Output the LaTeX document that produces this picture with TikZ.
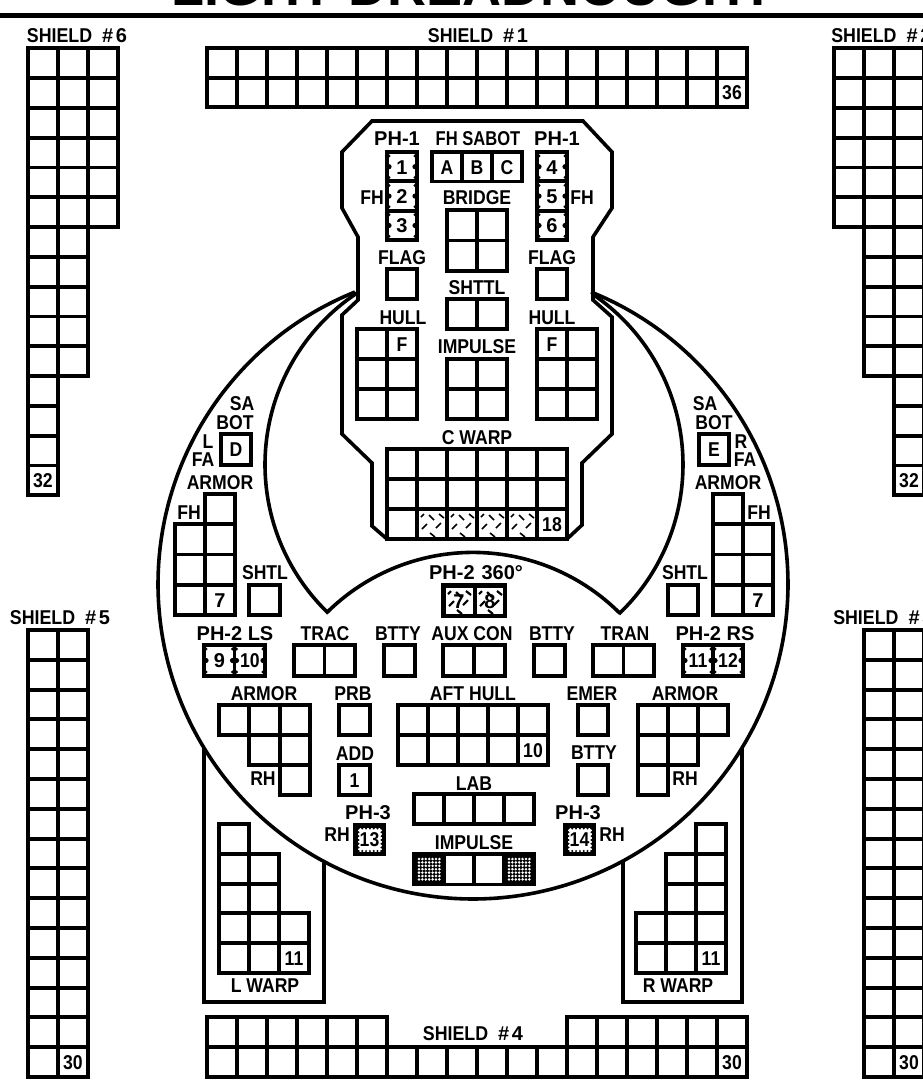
\documentclass[tikz,border=0pt]{standalone}
\usepackage{fontspec}
\usepackage{graphicx}
\setmainfont{Liberation Sans}
\newcounter{lbc}
\newcommand{\lblf}{\fontsize{15}{16}\selectfont\bfseries}
\tikzset{
  lbl/.style={font=\lblf,inner sep=0pt,anchor=center,text height=10.8pt,text depth=0pt},
  cellb/.style={draw=black,line width=2.9pt,fill=white},
  hull/.style={draw=black,line width=2.7pt,line join=miter},
  rule/.style={draw=black,line width=3.6pt}
}
% full grid of cells: x y w h nx ny
\newcommand{\gr}[6]{\foreach \ci in {1,...,#5}{\foreach \cj in {1,...,#6}{\draw[cellb] ({#1+(\ci-1)*#3},{#2+(\cj-1)*#4}) rectangle +(#3,#4);}}}
% text labels: x y text (narrow and plain widths)
\newcommand{\lab}[3]{\stepcounter{lbc}\node[lbl] (lb\thelbc) at (#1,#2) {\scalebox{0.88}[1]{#3}};}
\newcommand{\labw}[3]{\stepcounter{lbc}\node[lbl] (lb\thelbc) at (#1,#2) {#3};}
% shield title: SHIELD, wide gap, number sign, digit
\newcommand{\shld}[1]{\scalebox{0.89}[1]{SHIELD}\hspace{7.5pt}\#\hspace{2pt}#1}
% scalloped cell: x1 y1 x2 y2
\newcommand{\scal}[4]{\fill ({#1+2},{(#2+#4)/2}) circle[radius=2.6];\fill ({#3-2},{(#2+#4)/2}) circle[radius=2.6];
 \fill ({#1+2},{#2+4}) circle[radius=1.6];\fill ({#3-2},{#2+4}) circle[radius=1.6];\fill ({#1+2},{#4-4}) circle[radius=1.6];\fill ({#3-2},{#4-4}) circle[radius=1.6];}
% hatched cell: x y
\newcommand{\hatch}[3][1.2pt]{\begin{scope}[shift={(#2,#3)},line width=#1]
 \draw (5,20)--(10,15);\draw (12,6)--(17,11);\draw (19,19)--(24,14);\draw (13,24)--(18,28);\draw (22,5)--(27,9);\draw (4,8)--(7,5);
 \end{scope}}
% stippled dark cell: x y
\newcommand{\stip}[2]{\fill ({#1-1},{#2-1}) rectangle +(32,33);
 \foreach \u in {0,...,6}{\foreach \v in {0,...,6}{\fill[white] ({#1+5+\u*3.4},{#2+6+\v*3.4}) circle[radius=1.4];}}}
% phaser 3 box: x1 y1
\newcommand{\phthree}[2]{\fill (#1,#2) rectangle +(33,33);\fill[white] ({#1+5},{#2+5}) rectangle +(24,24);
 \foreach \u in {0,...,6}{\fill ({#1+5.5+\u*3.8},{#2+5.5}) circle[radius=1.1];\fill ({#1+5.5+\u*3.8},{#2+28}) circle[radius=1.1];\fill ({#1+5.5},{#2+5.5+\u*3.8}) circle[radius=1.1];\fill ({#1+28.5},{#2+5.5+\u*3.8}) circle[radius=1.1];}}
\begin{document}
\begin{tikzpicture}[x=0.75pt,y=-0.75pt]
\useasboundingbox (0,0) rectangle (923,1082);
\clip (0,0) rectangle (923,1082);
\fill[white] (0,0) rectangle (923,1082);
% title and rule
\node[font=\fontsize{40.5}{42}\selectfont\bfseries,inner sep=0pt,anchor=base] (title) at (473,5) {LIGHT DREADNOUGHT};
\draw[rule] (0,15.5) -- (923,15.5);
% hull outline
\draw[hull] (358,292) -- (358,237) -- (342,208) -- (342,152) -- (372,121) -- (583,121) -- (612,152) -- (612,208) -- (593,237) -- (593,292);
\draw[hull] (358,290) -- (358,300) -- (342,315) -- (342,434) -- (372,463) -- (372,526) -- (387,539) -- (567,539) -- (582,525) -- (582,463) -- (612,434) -- (612,317) -- (593,300) -- (593,290);
% saucer
\draw[hull] plot[smooth,domain=248:-68,samples=120] ({473+315*cos(\x)},{584+315*sin(\x)});
\draw[hull] plot[smooth,domain=236.4:133.9,samples=50] ({471+206*cos(\x)},{464.6+206*sin(\x)});
\draw[hull] plot[smooth,domain=-55.9:46.5,samples=50] ({477+206*cos(\x)},{464.6+206*sin(\x)});
\draw[hull] plot[smooth,domain=225:315,samples=50] ({473+207.6*cos(\x)},{760+207.6*sin(\x)});
% warp enclosures
\draw[hull] (204,748) -- (204,1002) -- (324,1002) -- (324,863);
\draw[hull] (623,862) -- (623,1002) -- (742,1002) -- (742,748);
% shields
\gr{28}{48.3}{30}{29.8}{3}{6}\gr{28}{227.1}{30}{29.8}{2}{5}\gr{28}{376.1}{30}{29.8}{1}{4}
\gr{834}{48.3}{30}{29.8}{3}{6}\gr{864}{227.1}{30}{29.8}{2}{5}\gr{894}{376.1}{30}{29.8}{1}{4}
\gr{28}{630}{30}{29.8}{2}{15}
\gr{864}{630}{30}{29.8}{2}{15}
\gr{207}{48}{30}{29.6}{18}{2}
\gr{207}{1017}{30}{30}{6}{1}\gr{567}{1017}{30}{30}{6}{1}\gr{207}{1047}{30}{30}{18}{1}
% forward section
\gr{387}{152}{30}{29.4}{1}{3}\gr{537}{152}{30}{29.4}{1}{3}
\gr{432}{152}{30}{29.5}{3}{1}
\gr{447}{210}{30}{30.5}{2}{2}
\gr{387}{269}{30}{30}{1}{1}\gr{537}{269}{30}{30}{1}{1}
\gr{447}{299}{30}{30}{2}{1}
\gr{357}{329}{30}{30}{2}{3}\gr{537}{329}{30}{30}{2}{3}
\gr{447}{359}{30}{30}{2}{2}
\gr{387}{449}{30}{30}{6}{3}
\foreach \k in {417,447,477,507}{\hatch{\k}{509}}
\scal{387}{152}{417}{181.4}\scal{387}{181.4}{417}{210.8}\scal{387}{210.8}{417}{240.2}
\scal{537}{152}{567}{181.4}\scal{537}{181.4}{567}{210.8}\scal{537}{210.8}{567}{240.2}
% sabots
\gr{221}{434}{30}{31}{1}{1}\gr{699}{434}{30}{31}{1}{1}
% FH armor
\gr{205}{494}{30}{30.25}{1}{4}\gr{175}{524.25}{30}{30.25}{1}{3}
\gr{713}{494}{30}{30.25}{1}{4}\gr{743}{524.25}{30}{30.25}{1}{3}
\gr{249}{585}{31}{30}{1}{1}\gr{668}{585}{30}{30}{1}{1}
% phaser 2 360
\fill (441,583) rectangle (507,618);
\fill[white] (446,588) rectangle (473,614);\fill[white] (477,588) rectangle (503,614);
\hatch[1.6pt]{444}{586}\hatch[1.6pt]{475}{586}
% mid row
\gr{204}{645}{30.5}{31}{2}{1}\scal{204}{645}{234.5}{676}\scal{234.5}{645}{265}{676}
\gr{294}{645}{30.5}{31}{2}{1}
\gr{384}{645}{31}{31}{1}{1}
\gr{443}{645}{31}{31}{2}{1}
\gr{534}{645}{31}{31}{1}{1}
\gr{593}{645}{30.5}{31}{2}{1}
\gr{683}{645}{30}{31}{2}{1}\scal{683}{645}{713}{676}\scal{713}{645}{743}{676}
% armor
\gr{219}{705}{30.3}{30}{3}{1}\gr{249.3}{735}{30.3}{30}{2}{1}\gr{279.6}{765}{30.3}{30}{1}{1}
\gr{638}{705}{30}{30}{3}{1}\gr{638}{735}{30}{30}{2}{1}\gr{638}{765}{30}{30}{1}{1}
\gr{339}{705}{31}{30}{1}{1}\gr{339}{765}{31}{30}{1}{1}
\gr{398}{705}{30}{30}{5}{2}
\gr{578}{705}{30}{30}{1}{1}\gr{578}{765}{30}{30}{1}{1}
\gr{414}{794}{30}{30}{4}{1}
\phthree{353}{823}\phthree{563}{823}
\gr{414}{854}{30}{30.5}{4}{1}
\stip{414}{853}\stip{504}{853}
% warp
\gr{219}{824}{30}{29.8}{1}{5}\gr{249}{853.8}{30}{29.8}{1}{4}\gr{279}{913.4}{30}{29.8}{1}{2}
\gr{696}{824}{30}{29.8}{1}{5}\gr{666}{853.8}{30}{29.8}{1}{4}\gr{636}{913.4}{30}{29.8}{1}{2}
% texts
\labw{77}{35}{\shld{6}}
\labw{478}{35}{\shld{1}}
\stepcounter{lbc}\node[lbl,anchor=west] (lbs2) at (831,35) {\shld{2}};
\labw{60}{617}{\shld{5}}
\stepcounter{lbc}\node[lbl,anchor=west] (lbs3) at (833,617) {\shld{3}};
\labw{473}{1033}{\shld{4}}
\lab{43}{480.5}{32}\lab{909}{480.5}{32}
\lab{73}{1062}{30}\lab{909}{1062}{30}
\lab{732}{92.5}{36}\lab{732}{1062}{30}
\labw{397}{138}{PH-1}\labw{557}{138}{PH-1}
\lab{478}{138}{\scalebox{0.94}[1]{FH SABOT}}
\lab{447}{167}{A}\lab{477}{167}{B}\lab{507}{167}{C}
\labw{402}{167}{1}\labw{402}{196}{2}\labw{402}{225.5}{3}
\labw{552}{167}{4}\labw{552}{196}{5}\labw{552}{225.5}{6}
\lab{372}{197}{FH}\lab{582}{197}{FH}
\lab{477}{197}{BRIDGE}
\lab{402}{257}{FLAG}\lab{552}{257}{FLAG}
\lab{477}{287}{SHTTL}
\lab{403}{317}{HULL}\lab{552}{317}{HULL}
\lab{402}{344}{F}\lab{552}{344}{F}
\lab{477}{346}{IMPULSE}
\lab{477}{437}{C WARP}
\lab{552}{524}{18}
\lab{242}{403}{SA}\lab{235}{422}{BOT}
\lab{208}{441}{L}\lab{203}{459}{FA}
\lab{236}{449.5}{D}\lab{714}{449.5}{E}
\lab{220}{482}{ARMOR}\lab{189}{512}{FH}
\lab{705}{403}{SA}\lab{714}{422}{BOT}
\lab{741}{441}{R}\lab{745}{459}{FA}
\lab{728}{482}{ARMOR}\lab{759}{512}{FH}
\labw{220}{600}{7}\labw{758}{600}{7}
\lab{265}{572}{SHTL}\lab{685}{572}{SHTL}
\labw{476}{572}{PH-2\hspace{1pt} 360°}
\labw{459}{601}{7}\labw{490}{601}{8}
\labw{235}{633}{PH-2 LS}\lab{325}{633}{TRAC}\lab{398}{633}{BTTY}
\lab{472}{633}{AUX CON}\lab{552}{633}{BTTY}\lab{625}{633}{TRAN}\labw{715}{633}{PH-2 RS}
\labw{219.5}{660.5}{9}\lab{250}{660.5}{10}\lab{698}{660.5}{11}\lab{728}{660.5}{12}
\lab{264}{693}{ARMOR}\lab{353}{693}{PRB}\lab{473}{693}{AFT HULL}\lab{592}{693}{EMER}\lab{685}{693}{ARMOR}
\lab{263}{778}{RH}\lab{685}{778}{RH}
\lab{355}{753}{ADD}\lab{594}{752}{BTTY}
\lab{354.5}{780}{1}\lab{533}{750}{10}
\lab{474}{783}{LAB}
\labw{368}{812}{PH-3}\labw{578}{812}{PH-3}
\lab{337}{834}{RH}\lab{612}{834}{RH}
\lab{369.5}{839.5}{13}\lab{579.5}{839.5}{14}
\lab{474}{842}{IMPULSE}
\lab{294}{958}{11}\lab{711}{958}{11}
\lab{265}{985}{L WARP}\lab{678}{985}{R WARP}
\end{tikzpicture}
\end{document}
